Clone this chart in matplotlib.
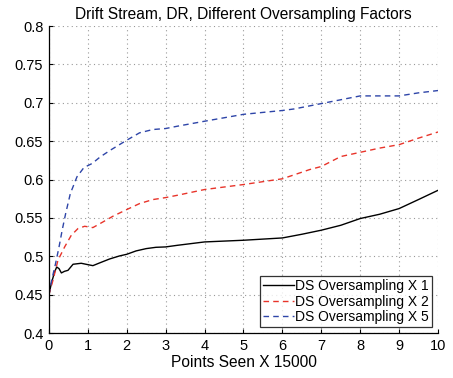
import matplotlib
matplotlib.use("Agg")
import matplotlib.pyplot as plt

plt.rcParams['font.family'] = ['Liberation Sans', 'DejaVu Sans']

x_ds1 = [0, 0.06, 0.145, 0.2, 0.26, 0.32, 0.4, 0.49, 0.62, 0.83, 1.0, 1.13, 1.3, 1.56, 1.81, 2.0,
         2.24, 2.5, 2.75, 3.0, 3.3, 4.0, 5.0, 6.0, 6.5, 7.0, 7.5, 8.0, 8.5, 9.0, 9.5, 10.0]
y_ds1 = [0.45, 0.464, 0.4796, 0.486, 0.4839, 0.4783, 0.4804, 0.4817, 0.4896, 0.4909, 0.4891, 0.4878,
         0.4913, 0.4965, 0.5004, 0.5026, 0.507, 0.510, 0.5117, 0.5122, 0.5143, 0.5187, 0.5209,
         0.5239, 0.5287, 0.534, 0.5404, 0.5492, 0.5548, 0.5622, 0.574, 0.586]

x_ds2 = [0, 0.104, 0.232, 0.404, 0.575, 0.746, 0.918, 1.13, 1.345, 1.645, 2.0, 2.33, 2.67, 3.0,
         3.31, 4.0, 5.0, 6.0, 6.7, 7.0, 7.5, 8.0, 8.5, 9.0, 9.5, 10.0]
y_ds2 = [0.45, 0.4687, 0.4948, 0.5122, 0.5274, 0.5361, 0.5391, 0.5374, 0.5435, 0.5522, 0.5609,
         0.5687, 0.5739, 0.5765, 0.5796, 0.587, 0.5935, 0.601, 0.613, 0.617, 0.630, 0.6355,
         0.641, 0.6455, 0.654, 0.662]

x_ds5 = [0, 0.07, 0.17, 0.26, 0.34, 0.43, 0.55, 0.72, 0.9, 1.11, 1.32, 1.58, 2.0, 2.33, 2.67,
         3.0, 3.31, 4.0, 5.0, 6.0, 6.3, 7.0, 7.5, 8.0, 8.5, 9.0, 9.5, 10.0]
y_ds5 = [0.45, 0.4687, 0.4904, 0.5122, 0.5339, 0.5557, 0.5817, 0.6035, 0.6157, 0.6209, 0.6296,
         0.6383, 0.6513, 0.6609, 0.6652, 0.6665, 0.6696, 0.676, 0.685, 0.690, 0.692, 0.699,
         0.704, 0.709, 0.709, 0.709, 0.713, 0.716]

labels = ['DS Oversampling X 1', 'DS Oversampling X 2', 'DS Oversampling X 5']
xticks = list(range(0, 11))
yticks = [0.4, 0.45, 0.5, 0.55, 0.6, 0.65, 0.7, 0.75, 0.8]
ytick_labels = ['0.4', '0.45', '0.5', '0.55', '0.6', '0.65', '0.7', '0.75', '0.8']

fig = plt.figure(figsize=(4.53, 3.78), dpi=100)
ax = fig.add_axes([0.108, 0.119, 0.859, 0.812])

ax.plot(x_ds1, y_ds1, color='black', lw=1.0, ls='-', label=labels[0])
ax.plot(x_ds2, y_ds2, color='#e8342a', lw=1.0, ls=(0, (4, 3)), label=labels[1])
ax.plot(x_ds5, y_ds5, color='#2e45a8', lw=1.0, ls=(0, (4, 3)), label=labels[2])

ax.set_xlim(0, 10)
ax.set_ylim(0.4, 0.8)
ax.set_xticks(xticks)
ax.set_yticks(yticks)
ax.set_yticklabels(ytick_labels)
ax.grid(True, color='#999999', ls=(0, (1, 3)), lw=0.8)
ax.spines['top'].set_visible(False)
ax.spines['right'].set_visible(False)
ax.spines['left'].set_linewidth(0.9)
ax.spines['bottom'].set_linewidth(0.9)
ax.tick_params(direction='in', length=3, labelsize=10.5, width=0.8, pad=4)
ax.set_xlabel('Points Seen X 15000', fontsize=11.2, labelpad=2)
ax.set_title('Drift Stream, DR, Different Oversampling Factors', fontsize=11.2, pad=5)

leg = ax.legend(loc='lower right', fontsize=10, frameon=True, fancybox=False,
                edgecolor='black', handlelength=2.2, handletextpad=0.1,
                borderpad=0.25, labelspacing=0.1, borderaxespad=0.4)
leg.get_frame().set_linewidth(0.9)

fig.savefig('out.png', dpi=100)
